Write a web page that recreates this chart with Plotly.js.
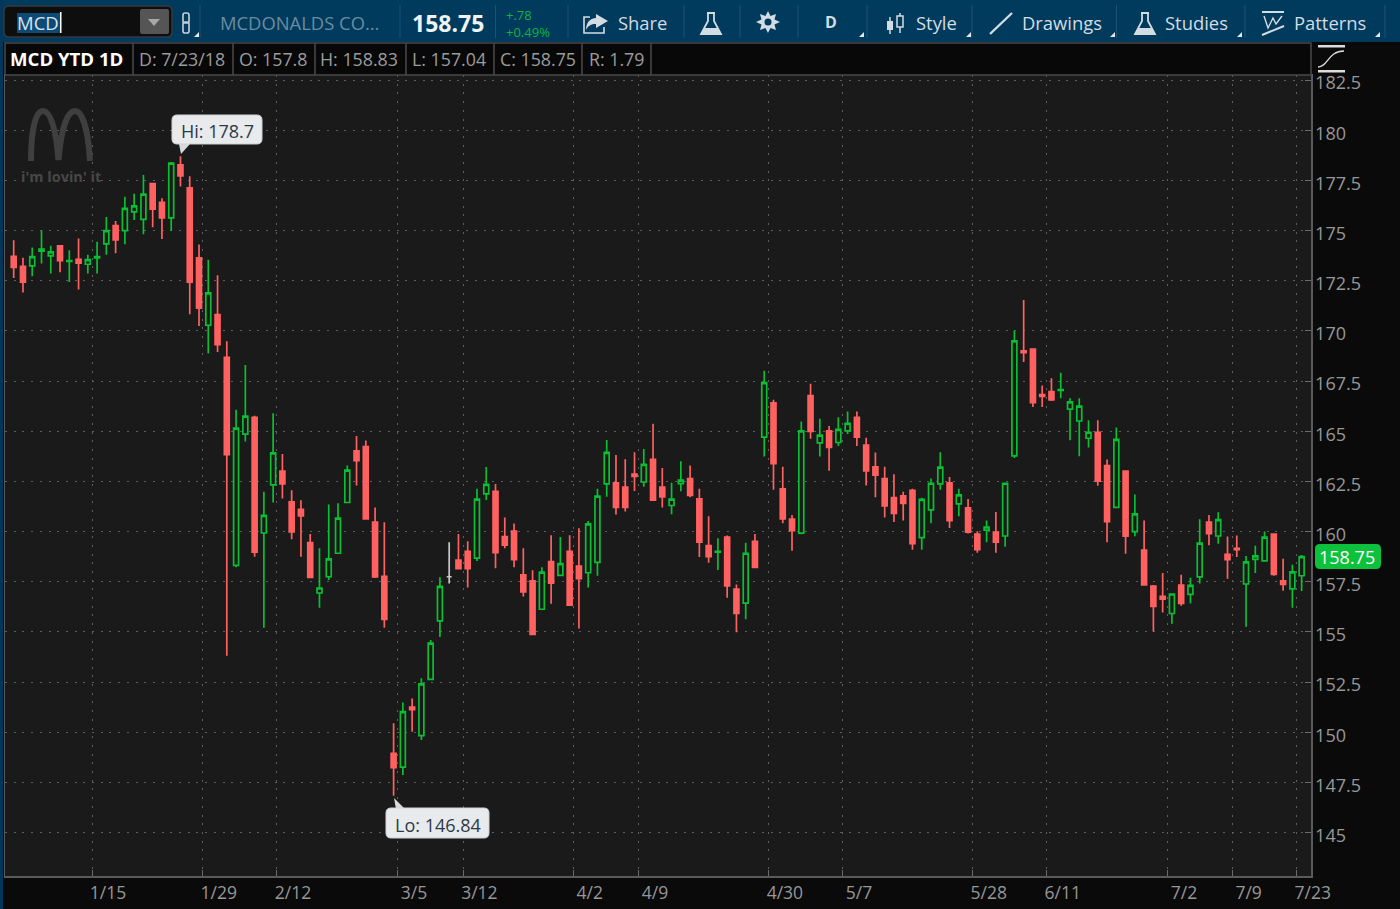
<!DOCTYPE html>
<html><head><meta charset="utf-8">
<script src="https://cdn.plot.ly/plotly-3.0.1.min.js"></script>
<style>html,body{margin:0;padding:0;background:#0a0a0a;overflow:hidden}#g{width:1400px;height:909px}</style>
</head><body><div id="g"></div>
<script>
const opens=[173.72,173.22,173.24,173.97,173.74,174.24,173.46,173.57,173.32,173.64,
174.34,175.25,175.0,175.93,175.56,177.34,176.4,175.63,178.27,177.13,
173.64,170.28,170.81,168.68,158.32,164.86,165.69,159.93,162.33,163.01,
161.48,161.11,159.45,156.94,157.75,158.92,161.45,164.02,164.24,160.47,
157.77,148.95,148.26,151.25,149.83,152.64,155.55,157.75,158.58,159.02,
158.68,161.88,162,159.75,160.02,157.85,157.55,156.13,158.5,157.82,
159.02,158.28,157.95,158.47,162.38,162.43,162.22,162.87,162.47,163.6,
162.22,161.3,162.39,162.64,161.63,159.3,158.97,159.73,157.14,156.44,
159.52,164.71,166.42,162.13,160.62,159.92,166.77,164.42,165.02,164.44,
165.02,165.69,164.31,163.23,162.64,161.7,161.78,162.06,159.7,161.08,
162.38,162.43,161.38,161.18,159.88,160.07,159.97,159.78,163.77,169.0,
169.09,166.83,166.98,167.03,166.1,165.51,164.65,164.95,163.29,161.21,
163.01,160,159.08,157.29,156.77,155.92,157.34,156.87,157.74,160.47,
159.78,158.87,159.17,157.39,158.62,158.54,159.88,157.54,157.15,157.8];
const highs=[174.52,173.65,174.15,175.02,174.24,174.24,174.02,174.6,173.79,174.44,
175.68,175.47,176.68,176.83,177.77,177.34,176.61,178.42,178.7,177.71,
174.3,173.55,172.77,169.48,166.07,168.3,165.77,161.98,165.9,163.87,
162.06,161.56,159.88,159.17,161.35,161.41,163.29,164.76,164.54,161.2,
160.47,150.45,151.48,151.69,152.69,154.6,157.72,159.47,159.88,159.52,
162.13,163.22,162.37,160.7,160.4,159.17,158.07,158.22,159.82,159.73,
159.82,160.17,160.53,162.13,164.57,163.82,163.6,163.95,164.12,165.37,
163.17,162.43,163.51,163.29,162.13,160.76,159.67,159.8,157.36,159.45,
159.88,168.02,166.57,163.23,160.83,165.49,167.37,165.62,165.26,165.7,
165.99,165.99,164.67,163.94,163.23,162.86,161.99,162.13,161.69,162.64,
163.95,162.72,162.13,161.63,160.02,160.55,160.98,162.41,170.02,171.54,
169.09,167.28,167.64,167.92,166.64,166.64,165.55,165.55,163.59,165.19,
163.01,161.85,160.55,157.34,157.94,156.92,157.85,157.7,160.62,160.83,
160.97,159.75,159.8,158.79,159.3,160,159.88,158.65,158.35,158.83];
const lows=[172.64,171.91,172.72,173.36,172.86,172.92,172.43,172.06,172.86,172.86,
173.8,173.87,174.32,175.53,174.82,175.17,174.58,174.98,177.19,170.83,
170.25,168.87,168.95,153.81,158.22,164.49,158.75,155.21,161.45,161.65,
159.62,158.75,157.72,156.21,157.59,158.92,161.45,162.3,160.63,157.69,
155.21,146.84,147.87,150.03,149.62,152.61,154.75,157.42,158.15,157.22,
158.53,161.58,158.17,159.17,158.22,156.77,154.88,156.12,156.4,157.8,
156.33,155.17,157.22,157.8,161.73,160.85,161,162.02,162.23,161.52,
161.2,160.87,162.01,161.71,158.74,158.45,158.09,156.71,154.98,155.63,
158.17,163.74,162.08,160.42,159.04,159.87,164.62,163.74,163.03,164.26,
164.86,164.26,162.3,161.71,160.7,160.48,160.55,159.1,159.1,160.42,
162.08,160.18,160.76,159.9,158.95,159.47,158.95,159.25,163.67,168.45,
166.21,166.21,166.51,166.64,164.55,163.75,164.19,162.29,159.47,161.21,
158.89,159.77,157.35,155.02,155.97,155.41,156.31,156.42,157.42,159.32,
159.4,157.65,158.74,155.26,157.94,158.54,157.8,157.05,156.21,157.04];
const closes=[173.16,172.43,173.70,174.07,173.94,173.5,173.5,173.37,173.55,173.7,
175.0,174.53,176.1,176.23,176.81,176.06,175.63,178.36,177.72,172.43,
171.13,171.89,169.32,163.83,165.16,165.75,158.97,160.81,163.92,162.38,
159.98,160.78,157.72,157.19,158.64,160.67,163.06,163.54,160.63,157.74,
155.63,148.24,151.03,151.13,152.41,154.44,157.27,157.75,158.15,158.15,
161.62,162.35,158.95,159.32,158.6,157,154.88,157.98,157.43,158.4,
156.33,157.65,160.38,161.77,163.95,161.2,161.2,162.75,163.35,161.57,
161.73,161.62,162.56,161.8,159.48,158.75,159.02,157.29,155.93,158.92,
158.22,167.42,163.39,160.63,160.05,165.02,164.99,164.81,164.19,165.09,
165.39,164.71,163.03,162.81,161.28,160.91,161.41,159.4,161.61,162.41,
163.21,160.55,161.83,159.97,159.1,160.23,159.47,162.41,169.5,168.92,
166.43,166.74,166.56,167.08,166.46,166.25,164.95,162.51,160.5,164.59,
159.77,160.88,157.35,156.27,156.64,156.89,156.42,157.32,159.43,159.9,
160.6,158.6,159.1,158.49,158.79,159.72,157.87,157.37,157.99,158.75];
const xTickLabels=['1/15','1/29','2/12','3/5','3/12','4/2','4/9','4/30','5/7','5/28','6/11','7/2','7/9','7/23'];
const xTickBars=[8.45,20.4,28.41,41.47,48.53,60.44,67.48,81.5,89.5,103.5,111.5,124.57,131.55,138.48];
const yTicks=[145,147.5,150,152.5,155,157.5,160,162.5,165,167.5,170,172.5,175,177.5,180,182.5];
const yTickLabels=['145','147.5','150','152.5','155','157.5','160','162.5','165','167.5','170','172.5','175','177.5','180','182.5'];
const infoCells=[['D: 7/23/18',139],['O: 157.8',239],['H: 158.83',320],['L: 157.04',412],['C: 158.75',500],['R: 1.79',589]];
const infoSeps=[133,233,315,406,494,582,651];
const barSeps=[200,400,495.5,568,684,740,798,867,972,1116.5,1245,1385];
const menuCorners=[195,860,967,1111,1238,1376];

const W=1400,H=909,L=5,R=1311,T=75,B=876;
const fx=x=>(x-L)/(R-L), fy=y=>(B-y)/(B-T);
function pp(s){
  let k=0;
  return s.replace(/-?\d+(\.\d+)?/g,m=>{const v=parseFloat(m);const o=(k++%2===0)?fx(v):fy(v);return o.toFixed(5);});
}
const shapes=[],anns=[];
function rect(x0,y0,x1,y1,fill,line,lw){shapes.push({type:'rect',xref:'paper',yref:'paper',x0:fx(x0),x1:fx(x1),y0:fy(y0),y1:fy(y1),fillcolor:fill||'rgba(0,0,0,0)',line:{color:line||'rgba(0,0,0,0)',width:lw||0},layer:'above'});}
function path(s,fill,line,lw){shapes.push({type:'path',xref:'paper',yref:'paper',path:pp(s),fillcolor:fill||'rgba(0,0,0,0)',line:{color:line||'rgba(0,0,0,0)',width:lw||0},layer:'above'});}
function rr(x0,y0,x1,y1,r){return `M ${x0+r} ${y0} L ${x1-r} ${y0} Q ${x1} ${y0} ${x1} ${y0+r} L ${x1} ${y1-r} Q ${x1} ${y1} ${x1-r} ${y1} L ${x0+r} ${y1} Q ${x0} ${y1} ${x0} ${y1-r} L ${x0} ${y0+r} Q ${x0} ${y0} ${x0+r} ${y0} Z`;}
function txt(x,y,t,size,color,opt){opt=opt||{};anns.push({xref:'paper',yref:'paper',x:fx(x),y:fy(y),text:t,showarrow:false,xanchor:opt.anchor||'left',align:opt.anchor||'left',yanchor:'middle',borderpad:0,borderwidth:0,font:{family:opt.family||'"Open Sans"',size:size,color:color}});}

const BLUE='#003a5c',ICON='#d3dce2',SEP='#1c5273';
rect(0,0,1400,42,BLUE);
rect(0,0,3,909,'#00375a');
barSeps.forEach(x=>rect(x-.5,5,x+.5,38,SEP));
path(rr(4,6,172,37,5),'#0e0e0e','#333a40',1.5);
rect(17,13,60,33,'#0d4a75');
rect(60,12,61.5,33,'#ffffff');
txt(17,22,'MCD',18.5,'#d8e4ec');
path(rr(140,9,169,34,2),'#555555');
path('M 148 19 L 160 19 L 154 26 Z','#a8a8a8');
path(rr(183,13,189,23,2),'', '#c8d0d6',1.6);
path(rr(183,22,189,33,2),'', '#c8d0d6',1.6);
txt(220,22,'MCDONALDS CO...',18.4,'#6b8ba0');
txt(412,23,'<b>'+closes[139]+'</b>',23,'#eef3f6');
txt(506,23,'+.78<br>+0.49%',13,'#0fb53d');
path('M 596 14 L 608 21 L 596 28 L 596 24 C 591 24 588 26 586 30 C 586 23 590 18 596 18 Z',ICON);
path('M 590 17 L 584 17 L 584 33 L 604 33 L 604 27','',ICON,1.6);
txt(618,22,'Share',18.4,'#d3dce2');
path('M 707 13 L 715 13 M 708 13 L 708 21 L 701 34 L 721 34 L 714 21 L 714 13','',ICON,1.8);
path('M 704 28 L 718 28 L 721 34 L 701 34 Z',ICON);
path('M 768 11 L 770.5 16 L 776 14 L 774.5 19.5 L 780 22 L 774.5 24.5 L 776 30 L 770.5 28 L 768 33 L 765.5 28 L 760 30 L 761.5 24.5 L 756 22 L 761.5 19.5 L 760 14 L 765.5 16 Z',ICON);
path(rr(764.5,18.5,771.5,25.5,3.5),BLUE);
txt(831,22,'<b>D</b>',16,'#d3dce2',{anchor:'center'});
path('M 890 17 L 890 34','',ICON,1.5);
rect(887,21,893,30,ICON);
path('M 900 13 L 900 33','',ICON,1.5);
path('M 897 16 L 903 16 L 903 27 L 897 27 Z',BLUE,ICON,1.5);
txt(916,22,'Style',18.4,'#d3dce2');
path('M 990 34 L 1012 13','',ICON,2.4);
txt(1022,22,'Drawings',18.4,'#d3dce2');
path('M 1141 13 L 1149 13 M 1142 13 L 1142 21 L 1135 34 L 1155 34 L 1148 21 L 1148 13','',ICON,1.8);
path('M 1138 28 L 1152 28 L 1155 34 L 1135 34 Z',ICON);
txt(1165,22,'Studies',18.4,'#d3dce2');
path('M 1262 12 L 1284 12','',ICON,2);
path('M 1264 16 L 1268 28 L 1273 18 L 1276 24 L 1282 16','',ICON,1.4);
path('M 1262 35 L 1284 26','',ICON,2);
txt(1294,22,'Patterns',18.4,'#d3dce2');
menuCorners.forEach(x=>path(`M ${x+4} 32 L ${x+4} 37 L ${x-1} 37 Z`,'#e4e8ea'));
rect(5,43,1311,75,'#080808','#4a4a4a',1.5);
infoSeps.forEach(x=>rect(x-.75,43,x+.75,75,'#4a4a4a'));
txt(10,59,'<b>MCD YTD 1D</b>',18.6,'#ffffff');
infoCells.forEach(c=>txt(c[1],59,c[0],17.8,'#9c9c9c'));
rect(1318,45,1345,47.5,'#dddddd');
rect(1318,70,1345,72.5,'#dddddd');
path('M 1318 67 C 1328 67 1328 51 1344 51','','#dddddd',1.3);
path('M 31 161 C 31 128 36 111 43 111 C 51 111 56 130 58.5 160 C 61 130 67 111 75 111 C 82 111 88 128 90 161','','#3f3f3f',6);
txt(21,176,"<b>i'm lovin' it</b>",14.5,'#474747');
path(`M 179 144 L 181 154 L 190 144 Z`,'#d8dadc');
path(rr(172,115,262,144,5),'#e8eaec','#cfd2d4',1);
txt(217,131,'Hi: 178.7',18,'#2b3a4a',{anchor:'center'});
path(`M 394 798 L 396 809 L 405 809 Z`,'#d8dadc');
path(rr(386,808,489,838,5),'#e8eaec','#cfd2d4',1);
txt(437.5,825,'Lo: 146.84',18,'#2b3a4a',{anchor:'center'});
path(rr(1315,544,1381,569,5),'#0dc13c');
anns.push({xref:'paper',yref:'y',x:fx(1347.5),y:closes[139],text:String(closes[139]),showarrow:false,xanchor:'center',yanchor:'middle',borderpad:0,borderwidth:0,font:{family:'"Open Sans"',size:18,color:'#ffffff'}});

const idx=opens.map((_,i)=>i);
const main=idx.filter(i=>opens[i]!==closes[i]), flat=idx.filter(i=>opens[i]===closes[i]);
const pick=(a,s)=>s.map(i=>a[i]);
const GREEN='#0bbf33',RED='#ff6060',GRAY='#c8c8c8',PLOT='#1a1a1a';
const LW=1.7;
const traces=[
 {type:'candlestick',x:main,open:pick(opens,main),high:pick(highs,main),low:pick(lows,main),close:pick(closes,main),name:'MCD',
  increasing:{line:{color:GREEN,width:LW},fillcolor:PLOT},decreasing:{line:{color:RED,width:LW},fillcolor:RED},whiskerwidth:0,showlegend:false},
 {type:'candlestick',x:flat,open:pick(opens,flat),high:pick(highs,flat),low:pick(lows,flat),close:pick(closes,flat),name:'MCD flat',
  increasing:{line:{color:GRAY,width:LW},fillcolor:GRAY},decreasing:{line:{color:GRAY,width:LW},fillcolor:GRAY},whiskerwidth:0,showlegend:false}
];
const layout={
 width:W,height:H,margin:{l:L,r:W-R,t:T,b:H-B,pad:0},
 paper_bgcolor:'#0a0a0a',plot_bgcolor:PLOT,showlegend:false,dragmode:false,
 boxgap:0.24,
 xaxis:{type:'linear',range:[-0.939,140.01],tickmode:'array',tickvals:xTickBars,ticktext:xTickLabels,
  ticks:'inside',ticklen:6,tickcolor:'#6a6a6a',tickwidth:1,showgrid:true,gridcolor:'#5e5e5e',griddash:'2px,6.7px',gridwidth:1,
  ticklabelshift:16,tickfont:{family:'"Open Sans"',size:17.5,color:'#979797'},
  showline:true,linecolor:'#5a5a5a',linewidth:1.5,mirror:true,zeroline:false,rangeslider:{visible:false},fixedrange:true},
 yaxis:{type:'linear',side:'right',range:[142.84,182.75],tickmode:'array',tickvals:yTicks,ticktext:yTickLabels,
  ticks:'inside',ticklen:6,tickcolor:'#6a6a6a',tickwidth:1,showgrid:true,gridcolor:'#5e5e5e',griddash:'2px,6.7px',gridwidth:1,
  tickfont:{family:'"Open Sans"',size:18,color:'#979797'},ticklabelshift:3,ticklabelstandoff:-1,
  showline:true,linecolor:'#5a5a5a',linewidth:1.5,mirror:true,zeroline:false,fixedrange:true},
 shapes:shapes,annotations:anns
};
Plotly.newPlot('g',traces,layout,{displayModeBar:false,responsive:false,staticPlot:true});
</script></body></html>
